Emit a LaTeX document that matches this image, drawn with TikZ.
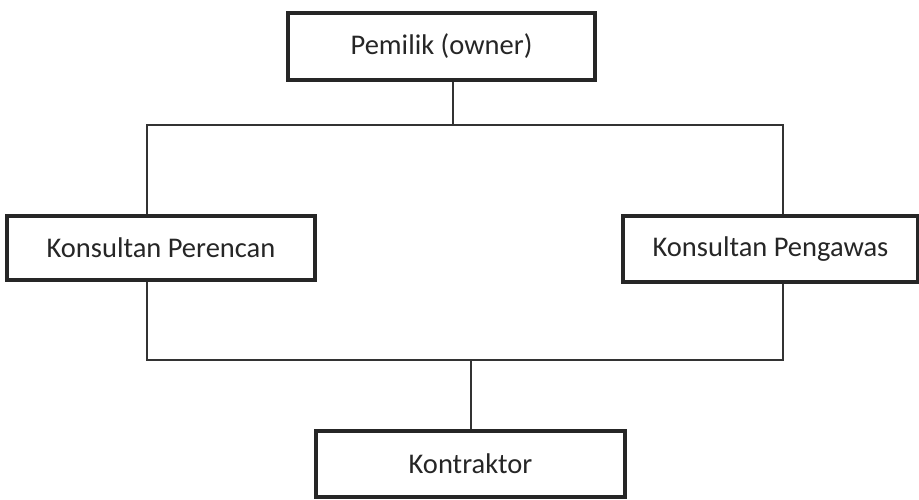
\documentclass[tikz,border=0pt]{standalone}
\usepackage{fontspec}
\setmainfont{Carlito}
\begin{document}
\begin{tikzpicture}[x=1pt,y=1pt,
  box/.style={draw=black!85, line width=3.2pt, fill=white, inner sep=0pt, font=\fontsize{28.5}{32}\selectfont, text=black!85},
  conn/.style={draw=black!80, line width=1.4pt}]
\useasboundingbox (0,0) rectangle (919,-500);
\node[box, minimum width=307, minimum height=67] (pem) at (441.5,-46.5) {Pemilik (owner)};
\node[box, minimum width=308, minimum height=64] (lp) at (161,-248) {Konsultan Perencan};
\node[box, minimum width=295, minimum height=66] (rp) at (770.5,-249) {Konsultan Pengawas};
\node[box, minimum width=309, minimum height=66] (kon) at (470.5,-464) {Kontraktor};
\coordinate (t) at (453,-125);
\coordinate (tl) at (147,-125);
\coordinate (tr) at (783,-125);
\coordinate (bl) at (147,-360);
\coordinate (br) at (783,-360);
\coordinate (bm) at (471,-360);
\draw[conn] (pem.south -| t) -- (t);
\draw[conn] (tl |- lp.north) -- (tl) -- (tr) -- (tr |- rp.north);
\draw[conn] (bl |- lp.south) -- (bl) -- (br) -- (br |- rp.south);
\draw[conn] (bm) -- (bm |- kon.north);
\end{tikzpicture}
\end{document}
